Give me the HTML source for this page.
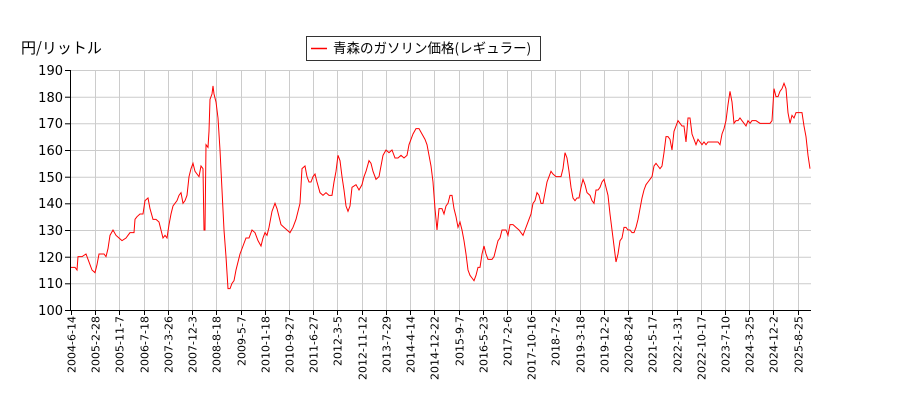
<!DOCTYPE html>
<html><head><meta charset="utf-8"><style>
body{margin:0;background:#fff;}
svg text{font-family:"DejaVu Sans","Liberation Sans","Noto Sans CJK JP",sans-serif;fill:#000;}
</style></head><body>
<svg width="900" height="400" viewBox="0 0 900 400" xmlns="http://www.w3.org/2000/svg">
<rect width="900" height="400" fill="#fff"/>
<text x="21" y="53" font-size="15" style="font-family:'Noto Sans CJK JP',sans-serif">円/リットル</text>
<g stroke="#cccccc" stroke-width="1">
<line x1="70" x2="811" y1="70.5" y2="70.5"/><line x1="70" x2="811" y1="97.2" y2="97.2"/><line x1="70" x2="811" y1="123.8" y2="123.8"/><line x1="70" x2="811" y1="150.5" y2="150.5"/><line x1="70" x2="811" y1="177.2" y2="177.2"/><line x1="70" x2="811" y1="203.8" y2="203.8"/><line x1="70" x2="811" y1="230.5" y2="230.5"/><line x1="70" x2="811" y1="257.2" y2="257.2"/><line x1="70" x2="811" y1="283.8" y2="283.8"/>
<path fill="none" d="M95.5 70V310M119.5 70V310M144.5 70V310M168.5 70V310M192.5 70V310M216.5 70V310M241.5 70V310M265.5 70V310M289.5 70V310M313.5 70V310M337.5 70V310M362.5 70V310M386.5 70V310M410.5 70V310M434.5 70V310M459.5 70V310M483.5 70V310M507.5 70V310M531.5 70V310M555.5 70V310M580.5 70V310M604.5 70V310M628.5 70V310M652.5 70V310M677.5 70V310M701.5 70V310M725.5 70V310M749.5 70V310M773.5 70V310M798.5 70V310"/>
</g>
<g font-size="13" text-anchor="end">
<text x="63" y="75">190</text><text x="63" y="102">180</text><text x="63" y="128">170</text><text x="63" y="155">160</text><text x="63" y="182">150</text><text x="63" y="208">140</text><text x="63" y="235">130</text><text x="63" y="262">120</text><text x="63" y="288">110</text><text x="63" y="315">100</text>
</g>
<g font-size="11" text-anchor="end">
<text transform="translate(75.5,316) rotate(-90)">2004-6-14</text>
<text transform="translate(99.5,316) rotate(-90)">2005-2-28</text>
<text transform="translate(123.5,316) rotate(-90)">2005-11-7</text>
<text transform="translate(148.5,316) rotate(-90)">2006-7-18</text>
<text transform="translate(172.5,316) rotate(-90)">2007-3-26</text>
<text transform="translate(196.5,316) rotate(-90)">2007-12-3</text>
<text transform="translate(220.5,316) rotate(-90)">2008-8-18</text>
<text transform="translate(245.5,316) rotate(-90)">2009-5-7</text>
<text transform="translate(269.5,316) rotate(-90)">2010-1-18</text>
<text transform="translate(293.5,316) rotate(-90)">2010-9-27</text>
<text transform="translate(317.5,316) rotate(-90)">2011-6-27</text>
<text transform="translate(341.5,316) rotate(-90)">2012-3-5</text>
<text transform="translate(366.5,316) rotate(-90)">2012-11-12</text>
<text transform="translate(390.5,316) rotate(-90)">2013-7-29</text>
<text transform="translate(414.5,316) rotate(-90)">2014-4-14</text>
<text transform="translate(438.5,316) rotate(-90)">2014-12-22</text>
<text transform="translate(463.5,316) rotate(-90)">2015-9-7</text>
<text transform="translate(487.5,316) rotate(-90)">2016-5-23</text>
<text transform="translate(511.5,316) rotate(-90)">2017-2-6</text>
<text transform="translate(535.5,316) rotate(-90)">2017-10-16</text>
<text transform="translate(559.5,316) rotate(-90)">2018-7-2</text>
<text transform="translate(584.5,316) rotate(-90)">2019-3-18</text>
<text transform="translate(608.5,316) rotate(-90)">2019-12-2</text>
<text transform="translate(632.5,316) rotate(-90)">2020-8-24</text>
<text transform="translate(656.5,316) rotate(-90)">2021-5-17</text>
<text transform="translate(681.5,316) rotate(-90)">2022-1-31</text>
<text transform="translate(705.5,316) rotate(-90)">2022-10-17</text>
<text transform="translate(729.5,316) rotate(-90)">2023-7-10</text>
<text transform="translate(753.5,316) rotate(-90)">2024-3-25</text>
<text transform="translate(777.5,316) rotate(-90)">2024-12-2</text>
<text transform="translate(802.5,316) rotate(-90)">2025-8-25</text>
</g>
<polyline fill="none" stroke="#ff0000" stroke-width="1" transform="matrix(1,0,0,-2.6667,0,576.67)" vector-effect="non-scaling-stroke" points="71,116 75,116 77,115 78,120 82,120 86,121 88,119 92,115 95,114 97,117 99,121 104,121 106,120 108,123 110,128 113,130 116,128 119,127 122,126 126,127 128,128 130,129 134,129 135,134 137,135 140,136 143,136 145,141 148,142 150,138 153,134 156,134 159,133 161,130 163,127 165,128 167,127 169,132 171,136 173,139 175,140 177,141 179,143 181,144 183,140 185,141 187,143 189,150 191,153 193,155 195,152 197,151 199,150 201,154 203,153 204,130 205,130 206,162 208,161 209,167 210,179 212,181 213,184 214,181 216,178 218,172 220,160 222,145 224,130 226,120 228,108 230,108 232,110 234,111 236,115 238,118 240,121 243,124 246,127 249,127 252,130 255,129 258,126 261,124 263,127 265,129 267,128 269,131 272,137 275,140 277,138 279,135 281,132 284,131 287,130 290,129 293,131 296,134 298,137 300,140 302,153 305,154 307,150 309,148 311,148 313,150 315,151 317,148 320,144 323,143 326,144 329,143 332,143 334,148 336,152 338,158 340,156 342,150 344,145 346,139 348,137 350,139 352,146 356,147 359,145 362,147 364,150 366,152 369,156 371,155 373,152 376,149 379,150 381,154 383,158 386,160 389,159 392,160 395,157 398,157 401,158 404,157 407,158 409,162 411,164 413,166 416,168 419,168 422,166 425,164 427,162 429,158 431,154 433,148 435,138 437,130 439,138 442,138 444,136 446,139 448,140 450,143 452,143 454,138 456,135 458,131 460,133 462,130 464,126 466,121 468,115 470,113 472,112 474,111 476,113 478,116 480,116 482,121 484,124 486,121 488,119 490,119 492,119 494,120 496,123 498,126 500,127 502,130 504,130 506,130 508,128 510,132 513,132 516,131 519,130 521,129 523,128 525,130 527,132 529,134 531,136 533,140 535,141 537,144 539,143 541,140 543,140 545,144 547,148 549,150 551,152 553,151 556,150 559,150 561,150 563,153 565,159 567,157 569,152 571,146 573,142 575,141 577,142 579,142 581,146 583,149 585,147 587,144 590,143 592,141 594,140 596,145 598,145 600,146 602,148 604,149 606,146 608,143 610,136 612,130 614,124 616,118 618,121 620,126 622,127 624,131 626,131 628,130 630,130 632,129 634,129 636,131 638,134 640,138 642,142 644,145 646,147 648,148 650,149 652,150 654,154 656,155 658,154 660,153 662,154 664,159 666,165 668,165 670,164 672,160 674,167 676,169 678,171 680,170 682,169 684,169 686,163 688,172 690,172 692,166 694,164 696,162 698,164 700,163 702,162 704,163 706,162 708,163 710,163 712,163 714,163 716,163 718,163 720,162 722,166 724,168 726,171 728,177 730,182 732,178 734,170 736,171 738,171 740,172 742,171 744,170 746,169 748,171 750,170 752,171 756,171 760,170 764,170 768,170 770,170 772,171 774,183 776,180 778,180 780,182 782,183 784,185 786,183 788,174 790,170 792,173 794,172 796,174 798,174 800,174 802,174 804,169 806,165 808,158 810,153"/>
<line x1="70.5" y1="70" x2="70.5" y2="310" stroke="#000"/>
<line x1="70" y1="310.5" x2="811" y2="310.5" stroke="#000"/>
<g stroke="#000">
<line x1="65" x2="70" y1="70.5" y2="70.5"/><line x1="65" x2="70" y1="97.2" y2="97.2"/><line x1="65" x2="70" y1="123.8" y2="123.8"/><line x1="65" x2="70" y1="150.5" y2="150.5"/><line x1="65" x2="70" y1="177.2" y2="177.2"/><line x1="65" x2="70" y1="203.8" y2="203.8"/><line x1="65" x2="70" y1="230.5" y2="230.5"/><line x1="65" x2="70" y1="257.2" y2="257.2"/><line x1="65" x2="70" y1="283.8" y2="283.8"/><line x1="65" x2="70" y1="310.5" y2="310.5"/>
<path fill="none" d="M71.5 310V315M95.5 310V315M119.5 310V315M144.5 310V315M168.5 310V315M192.5 310V315M216.5 310V315M241.5 310V315M265.5 310V315M289.5 310V315M313.5 310V315M337.5 310V315M362.5 310V315M386.5 310V315M410.5 310V315M434.5 310V315M459.5 310V315M483.5 310V315M507.5 310V315M531.5 310V315M555.5 310V315M580.5 310V315M604.5 310V315M628.5 310V315M652.5 310V315M677.5 310V315M701.5 310V315M725.5 310V315M749.5 310V315M773.5 310V315M798.5 310V315"/>
</g>
<rect x="306.5" y="36.5" width="234" height="24" fill="#fff" stroke="#333"/>
<line x1="311" y1="48.5" x2="327" y2="48.5" stroke="#ff0000" stroke-width="1.5"/>
<text x="333" y="53" font-size="13.5" style="font-family:'Noto Sans CJK JP',sans-serif">青森のガソリン価格(レギュラー)</text>
</svg>
</body></html>
